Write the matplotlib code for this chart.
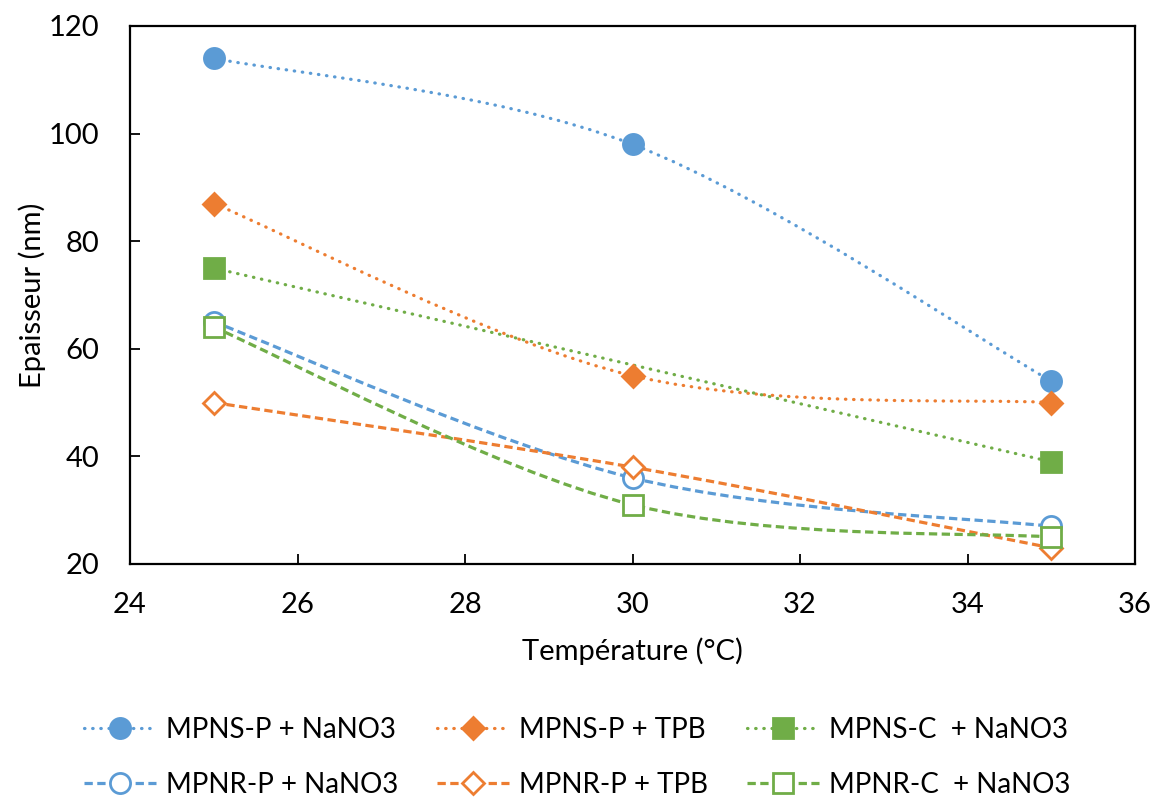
import numpy as np
import matplotlib.pyplot as plt
from matplotlib.path import Path
from matplotlib.patches import PathPatch
from matplotlib.lines import Line2D

plt.rcParams['font.family'] = ['Lato', 'DejaVu Sans']

temps = [25, 30, 35]
mpns_p_nano3 = [114, 98, 54]
mpns_p_tpb = [87, 55, 50]
temps_mpns_c = [25, 35]
mpns_c_nano3 = [75, 39]
mpnr_p_nano3 = [65, 36, 27]
mpnr_p_tpb = [50, 38, 23]
mpnr_c_nano3 = [64, 31, 25]

blue = '#5B9BD5'
orange = '#ED7D31'
green = '#70AD47'


def smooth_path(x, y):
    # Excel-style smoothed line (Catmull-Rom as cubic Bezier)
    pts = np.column_stack([x, y]).astype(float)
    n = len(pts)
    verts = [pts[0]]
    codes = [Path.MOVETO]
    for i in range(n - 1):
        p0 = pts[i - 1] if i > 0 else pts[i]
        p1 = pts[i]
        p2 = pts[i + 1]
        p3 = pts[i + 2] if i + 2 < n else pts[i + 1]
        c1 = p1 + (p2 - p0) / 6
        c2 = p2 - (p3 - p1) / 6
        verts += [c1, c2, p2]
        codes += [Path.CURVE4] * 3
    return Path(verts, codes)


dot = (0, (0.15, 2.4))
dash = (0, (2.6, 1.4))
lw = 2.3

series = [
    ('MPNS-P + NaNO3', temps, mpns_p_nano3, blue, dot, 'o', True),
    ('MPNR-P + NaNO3', temps, mpnr_p_nano3, blue, dash, 'o', False),
    ('MPNS-P + TPB', temps, mpns_p_tpb, orange, dot, 'D', True),
    ('MPNR-P + TPB', temps, mpnr_p_tpb, orange, dash, 'D', False),
    ('MPNS-C  + NaNO3', temps_mpns_c, mpns_c_nano3, green, dot, 's', True),
    ('MPNR-C  + NaNO3', temps, mpnr_c_nano3, green, dash, 's', False),
]

fig = plt.figure(figsize=(11.54, 7.99), dpi=100)
ax = fig.add_axes([130 / 1154, 1 - 564 / 799, 1005 / 1154, 538 / 799])

handles = []
for label, x, y, color, ls, mk, filled in series:
    cap = 'round' if ls is dot else 'butt'
    patch = PathPatch(smooth_path(x, y), facecolor='none', edgecolor=color,
                      linewidth=lw, linestyle=ls, capstyle=cap)
    ax.add_patch(patch)
    ms = 14.5 if mk != 'D' else 11
    ax.plot(x, y, linestyle='none', marker=mk, markersize=ms,
            markerfacecolor=color if filled else 'white',
            markeredgecolor=color, markeredgewidth=2, zorder=3)
    handles.append(Line2D([], [], color=color, linestyle=ls, linewidth=lw,
                          dash_capstyle=cap,
                          marker=mk, markersize=ms,
                          markerfacecolor=color if filled else 'white',
                          markeredgecolor=color, markeredgewidth=2,
                          label=label))

ax.set_xlim(24, 36)
ax.set_ylim(20, 120)
ax.set_xticks(np.arange(24, 37, 2))
ax.set_yticks(np.arange(20, 121, 20))
ax.tick_params(direction='in', length=7, width=1.3, labelsize=21)
ax.tick_params(axis='x', pad=20)
ax.tick_params(axis='y', pad=22)
for sp in ax.spines.values():
    sp.set_linewidth(1.6)
    sp.set_color('black')

ax.set_xlabel('Température (°C)', fontsize=21, labelpad=14)
ax.set_ylabel('Epaisseur (nm)', fontsize=21, labelpad=2)

fig.legend(handles=handles, loc='lower center', ncol=3, fontsize=20,
           frameon=False, bbox_to_anchor=(0.5, -0.03), handlelength=2.6,
           columnspacing=1.4, labelspacing=1.05, handletextpad=0.35)

fig.savefig('out.png', dpi=100)
